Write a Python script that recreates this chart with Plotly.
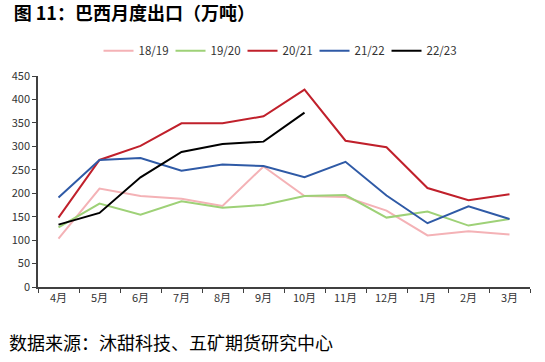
import plotly.graph_objects as go

months = ["4月", "5月", "6月", "7月", "8月", "9月", "10月", "11月", "12月", "1月", "2月", "3月"]
s1819 = [103, 210, 194, 188, 173, 257, 194, 192, 163, 110, 119, 112]
s1920 = [127, 178, 154, 183, 169, 175, 194, 196, 148, 161, 131, 145]
s2021 = [148, 271, 301, 349, 349, 364, 421, 312, 298, 211, 185, 198]
s2122 = [191, 271, 275, 248, 261, 258, 234, 267, 195, 136, 172, 145]
s2223 = [133, 158, 234, 288, 305, 310, 372]

names = ["18/19", "19/20", "20/21", "21/22", "22/23"]
colors = ["#f4b2b6", "#9ed177", "#c0202b", "#2f5aa6", "#000000"]
series = [s1819, s1920, s2021, s2122, s2223]

fig = go.Figure()
for n, c, s in zip(names, colors, series):
    fig.add_trace(go.Scatter(x=months[:len(s)], y=s, name=n, mode="lines",
                             line=dict(color=c, width=2)))

fig.update_layout(
    width=545, height=362,
    margin=dict(l=38, r=15, t=76, b=75, autoexpand=False),
    paper_bgcolor="white", plot_bgcolor="white",
    font=dict(family="Noto Sans CJK SC, sans-serif", color="#333333", size=11),
    showlegend=True,
    legend=dict(orientation="h", x=0.123, xanchor="left", y=1.12, yanchor="middle",
                font=dict(size=11.5, color="#333333"), entrywidth=27, entrywidthmode="pixels",
                itemwidth=30, tracegroupgap=0),
    title=dict(text="<b>图 11：巴西月度出口（万吨）</b>", x=0.025, xanchor="left",
               y=0.962, yanchor="middle", font=dict(size=18, color="#000000")),
    annotations=[dict(text="数据来源：沐甜科技、五矿期货研究中心", xref="paper", yref="paper",
                      x=-0.063, xanchor="left", y=-0.26, yanchor="middle", showarrow=False,
                      font=dict(size=18, color="#000000"))],
)
fig.update_xaxes(type="category", categoryorder="array", categoryarray=months,
                 showline=True, linecolor="#404040", linewidth=1.5,
                 ticks="outside", tickson="boundaries", ticklen=4, tickcolor="#404040",
                 showgrid=False, tickfont=dict(size=11, color="#333333"), range=[-0.5, 11.5])
fig.update_yaxes(range=[0, 450], dtick=50, showline=True, linecolor="#404040", linewidth=1.5,
                 ticks="outside", ticklen=4, tickcolor="#404040", showgrid=False, zeroline=False,
                 tickfont=dict(size=11, color="#333333"))

fig.write_html("out.html", config={"displayModeBar": False},
               post_script="document.body.style.margin='0';")
